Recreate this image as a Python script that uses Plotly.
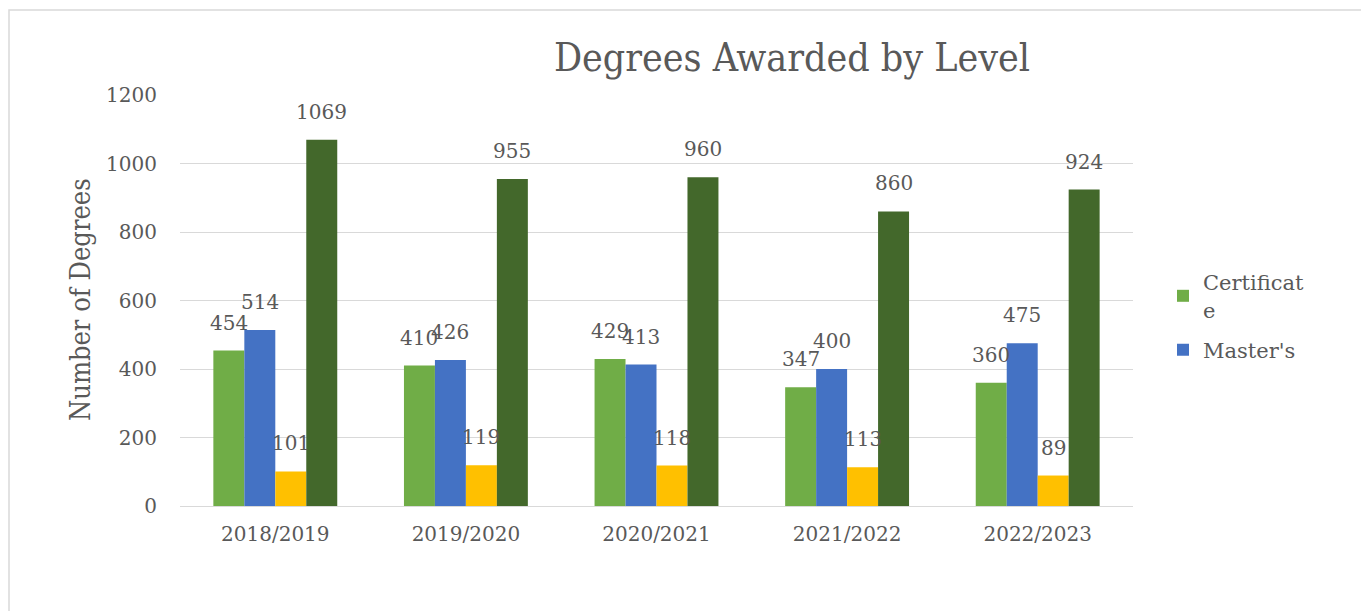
import plotly.graph_objects as go

years = ["2018/2019", "2019/2020", "2020/2021", "2021/2022", "2022/2023"]
certificate = [454, 410, 429, 347, 360]
masters = [514, 426, 413, 400, 475]
doctorate = [101, 119, 118, 113, 89]
bachelors = [1069, 955, 960, 860, 924]
y_ticks = [0, 200, 400, 600, 800, 1000, 1200]

series = [
    ("Certificat<br>e", certificate, "#70AD47", True),
    ("Master's", masters, "#4472C4", True),
    ("Doctorate", doctorate, "#FFC000", False),
    ("Bachelor's", bachelors, "#43682B", False),
]

FONT = "DejaVu Serif"
TFONT = "DejaVu Serif Condensed"
TXT = "#595959"

# page body margin offset
OFF = 8
W, H = 1369 - OFF, 611 - OFF
# plot area in screen coords
PX0, PX1, PY0, PY1 = 180, 1133, 95, 506
L = PX0 - OFF
R = (OFF + W) - PX1
T = PY0 - OFF
B = (OFF + H) - PY1
pw = PX1 - PX0
ph = PY1 - PY0

def px(x):
    return (x - PX0) / pw

def py(y):
    return (PY1 - y) / ph

fig = go.Figure()
for i, (name, vals, color, show) in enumerate(series):
    fig.add_trace(go.Bar(x=years, y=vals, name=name, marker_color=color,
                         marker_line_width=0, showlegend=show, legendgroup=f"g{i}"))

annotations = []
offsets = [-46.5, -15.5, 15.5, 46.5]
for (name, vals, color, show), off in zip(series, offsets):
    for yr, v in zip(years, vals):
        annotations.append(dict(x=yr, y=v, xref="x", yref="y", text=str(v),
                                showarrow=False, xshift=off, yshift=28,
                                font=dict(family=FONT, size=20, color=TXT)))

annotations.append(dict(x=px(80), y=py(300), xref="paper", yref="paper",
                        text="Number of Degrees", textangle=-90, showarrow=False,
                        xanchor="center", yanchor="middle",
                        font=dict(family=TFONT, size=27, color=TXT)))

fig.update_layout(
    width=W, height=H,
    margin=dict(l=L, r=R, t=T, b=B),
    paper_bgcolor="white", plot_bgcolor="white",
    barmode="group", bargap=0.35, bargroupgap=0,
    title=dict(text="Degrees Awarded by Level", x=(792 - OFF) / W, xanchor="center",
               xref="container", yref="container", y=1 - (57 - OFF) / H, yanchor="middle",
               font=dict(family=TFONT, size=39, color=TXT)),
    xaxis=dict(showgrid=False, showline=False, ticks="", zeroline=False,
               ticklabelstandoff=14,
               tickfont=dict(family=FONT, size=20, color=TXT)),
    yaxis=dict(range=[0, 1200], tickvals=y_ticks, showgrid=True, gridcolor="#D9D9D9",
               gridwidth=1, zeroline=True, zerolinecolor="#D9D9D9", zerolinewidth=1,
               showline=False, ticks="", ticklabelstandoff=22,
               tickfont=dict(family=FONT, size=20, color=TXT)),
    legend=dict(x=px(1163), y=py(262),
                xanchor="left", yanchor="top", bgcolor="rgba(0,0,0,0)",
                font=dict(family=FONT, size=21, color=TXT), tracegroupgap=10),
    annotations=annotations,
    shapes=[dict(type="rect", xref="paper", yref="paper",
                 x0=px(9), x1=px(1365),
                 y0=py(640), y1=py(10),
                 line=dict(color="#D9D9D9", width=1.5), layer="below")],
)

fig.write_html("out.html")
